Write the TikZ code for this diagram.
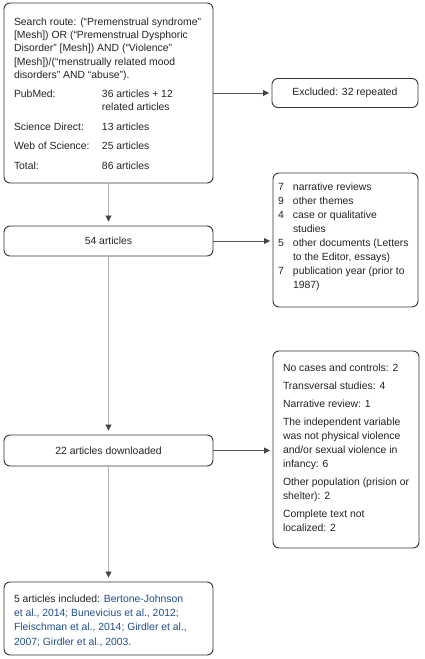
\documentclass[tikz,border=0pt]{standalone}
\usepackage{fontspec}
\setmainfont{Liberation Sans}
\usetikzlibrary{arrows.meta}
\definecolor{boxline}{HTML}{333333}
\definecolor{vline}{HTML}{B0B0B0}
\definecolor{hline}{HTML}{555555}
\definecolor{tipcol}{HTML}{444444}
\definecolor{citecol}{HTML}{1F4E8A}
\definecolor{txt}{HTML}{222222}
% width, height, left margin, top margin, baselineskip, text
\newcommand{\boxcontent}[6]{%
  \parbox[c][#2][t]{#1}{\fontsize{10.4}{#5}\selectfont\raggedright\leftskip=#3\relax\vspace*{#4}#6}}
\newcommand{\gap}[1]{\par\vspace{#1}}
\begin{document}
\begin{tikzpicture}[x=1pt,y=-1pt,
  box/.style={draw=boxline, line width=0.9pt, rounded corners=6pt, inner sep=0pt,
    text=txt, font=\fontsize{10.4}{12}\selectfont},
  vconn/.style={draw=vline, line width=0.8pt,
    -{Triangle[length=6pt,width=6pt,color=tipcol]}, shorten >=4pt},
  hconn/.style={draw=hline, line width=0.8pt,
    -{Triangle[length=6pt,width=6pt,color=tipcol]}, shorten >=2.5pt}]
\useasboundingbox (0,0) rectangle (424,659);

\node[box, minimum width=209pt, minimum height=180pt] (search) at (108.5,93)
  {\boxcontent{209pt}{180pt}{10pt}{14.5pt}{13.4pt}{%
    Search route: (“Premenstrual syndrome”\\\relax
    [Mesh]) OR (“Premenstrual Dysphoric\\\relax
    Disorder” [Mesh]) AND (“Violence”\\\relax
    [Mesh])/(“menstrually related mood\\\relax
    disorders” AND “abuse”).\gap{5.5pt}
    \makebox[88pt][l]{PubMed:}36 articles + 12\\\relax
    \hspace*{88pt}related articles\gap{6pt}
    \makebox[88pt][l]{Science Direct:}13 articles\gap{6pt}
    \makebox[88pt][l]{Web of Science:}25 articles\gap{6pt}
    \makebox[88pt][l]{Total:}86 articles}};

\node[box, minimum width=146pt, minimum height=29pt] (excl) at (345,93)
  {Excluded: 32 repeated};

\node[box, minimum width=209pt, minimum height=30pt] (n54) at (108.5,241)
  {54 articles};

\node[box, minimum width=145pt, minimum height=134pt] (excltwo) at (345.5,240)
  {\boxcontent{145pt}{134pt}{5pt}{10pt}{14pt}{%
    \makebox[15pt][l]{7}narrative reviews\\\relax
    \makebox[15pt][l]{9}other themes\\\relax
    \makebox[15pt][l]{4}case or qualitative\\\relax
    \hspace*{15pt}studies\\\relax
    \makebox[15pt][l]{5}other documents (Letters\\\relax
    \hspace*{15pt}to the Editor, essays)\\\relax
    \makebox[15pt][l]{7}publication year (prior to\\\relax
    \hspace*{15pt}1987)}};

\node[box, minimum width=209pt, minimum height=31pt] (n22) at (108.5,450.5)
  {22 articles downloaded};

\node[box, minimum width=146pt, minimum height=197pt] (exclthree) at (346,449.5)
  {\boxcontent{146pt}{197pt}{10pt}{13pt}{14pt}{%
    No cases and controls: 2\gap{4pt}
    Transversal studies: 4\gap{4pt}
    Narrative review: 1\gap{4pt}
    The independent variable\\\relax
    was not physical violence\\\relax
    and/or sexual violence in\\\relax
    infancy: 6\gap{4pt}
    Other population (prision or\\\relax
    shelter): 2\gap{4pt}
    Complete text not\\\relax
    localized: 2}};

\node[box, minimum width=209pt, minimum height=73pt] (n5) at (108.5,618.5)
  {\boxcontent{209pt}{73pt}{10pt}{12.5pt}{14.4pt}{%
    5 articles included: \textcolor{citecol}{Bertone-Johnson}\\\relax
    \textcolor{citecol}{et al., 2014; Bunevicius et al., 2012;}\\\relax
    \textcolor{citecol}{Fleischman et al., 2014; Girdler et al.,}\\\relax
    \textcolor{citecol}{2007; Girdler et al., 2003}.}};

\draw[vconn] (search.south) -- (n54.north);
\draw[hconn] (search.east) -- (excl.west);
\draw[hconn] (n54.east) -- (n54.east -| excltwo.west);
\draw[vconn] (n54.south) -- (n22.north);
\draw[hconn] (n22.east) -- (n22.east -| exclthree.west);
\draw[vconn] (n22.south) -- (n5.north);
\end{tikzpicture}
\end{document}
